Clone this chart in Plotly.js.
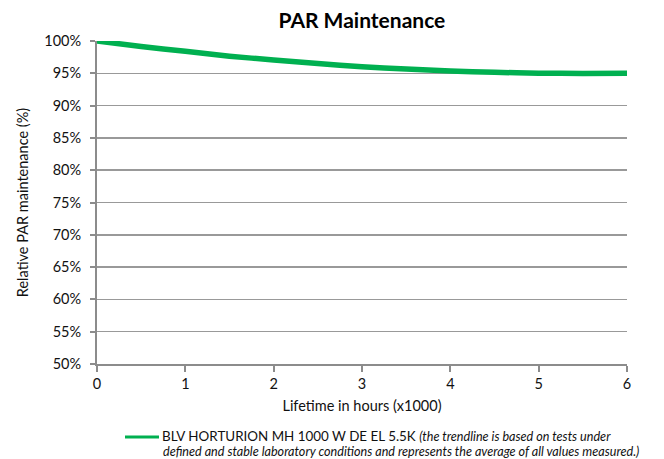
<!DOCTYPE html>
<html>
<head>
<meta charset="utf-8">
<script src="https://cdn.plot.ly/plotly-3.0.1.min.js"></script>
<style>html,body{margin:0;padding:0;background:#fff;}#chart{width:664px;height:459px;}</style>
</head>
<body>
<div id="chart"></div>
<script>
const hours = [0, 0.5, 1, 1.5, 2, 2.5, 3, 3.5, 4, 4.5, 5, 5.5, 6];
const parMaintenance = [100, 99.15, 98.4, 97.65, 97.05, 96.5, 96.0, 95.65, 95.35, 95.15, 95.02, 94.98, 95.0];
const seriesName = 'BLV HORTURION MH 1000 W DE EL 5.5K';
const seriesNote = ['(the trendline is based on tests under', 'defined and stable laboratory conditions and represents the average of all values measured.)'];
const yTicks = [50, 55, 60, 65, 70, 75, 80, 85, 90, 95, 100];

const FONT = 'Lato, "Open Sans", sans-serif';
const GREEN = '#00b050';
const trace = {
  x: hours, y: parMaintenance, type: 'scatter', mode: 'lines',
  line: {color: GREEN, width: 5.5, shape: 'spline', smoothing: 0.2},
  name: seriesName, showlegend: false
};
const layout = {
  width: 664, height: 459,
  margin: {l: 97, r: 37, t: 41, b: 95},
  paper_bgcolor: '#fff', plot_bgcolor: '#fff',
  font: {family: FONT, color: '#1a1a1a', size: 14},
  title: {text: '<b>PAR Maintenance</b>', font: {family: FONT, size: 21, color: '#000'}, x: 0.545, xanchor: 'center', y: 0.955, yanchor: 'middle'},
  xaxis: {
    range: [0, 6], dtick: 1, tick0: 0, showgrid: false, zeroline: false,
    showline: true, linecolor: '#8c8c8c', linewidth: 2,
    ticks: 'outside', ticklen: 6, tickwidth: 2, tickcolor: '#8c8c8c',
    tickfont: {family: FONT, size: 14.5, color: '#111'},
    title: {text: 'Lifetime in hours (x1000)', font: {family: FONT, size: 14.5, color: '#111'}, standoff: 9}
  },
  yaxis: {
    range: [50, 100], tickvals: yTicks, ticktext: yTicks.map(v => v + '%'),
    showgrid: true, gridcolor: '#999999', gridwidth: 1.5, zeroline: false,
    showline: true, linecolor: '#8c8c8c', linewidth: 2,
    ticks: 'outside', ticklen: 5, tickwidth: 2, tickcolor: '#8c8c8c', ticklabelstandoff: 6,
    tickfont: {family: FONT, size: 14.5, color: '#111'},
    title: {text: 'Relative PAR maintenance (%)', font: {family: FONT, size: 14.5, color: '#111'}, standoff: 12}
  },
  showlegend: false,
  shapes: [{type: 'line', xref: 'paper', yref: 'paper', x0: (125-97)/530, x1: (159-97)/530, y0: -73/323, y1: -73/323, line: {color: GREEN, width: 3}}],
  annotations: [{
    xref: 'paper', yref: 'paper', x: (160-97)/530, y: -72/323, xanchor: 'left', yanchor: 'middle', align: 'left', showarrow: false,
    text: seriesName + ' <i><span style="font-size:12.6px">' + seriesNote[0] + '</span></i>',
    font: {family: FONT, size: 13.4, color: '#111'}
  }, {
    xref: 'paper', yref: 'paper', x: (161-97)/530, y: -87.5/323, xanchor: 'left', yanchor: 'middle', align: 'left', showarrow: false,
    text: '<i>' + seriesNote[1] + '</i>',
    font: {family: FONT, size: 12.6, color: '#111'}
  }]
};
Plotly.newPlot('chart', [trace], layout, {displayModeBar: false, staticPlot: true});
</script>
</body>
</html>
